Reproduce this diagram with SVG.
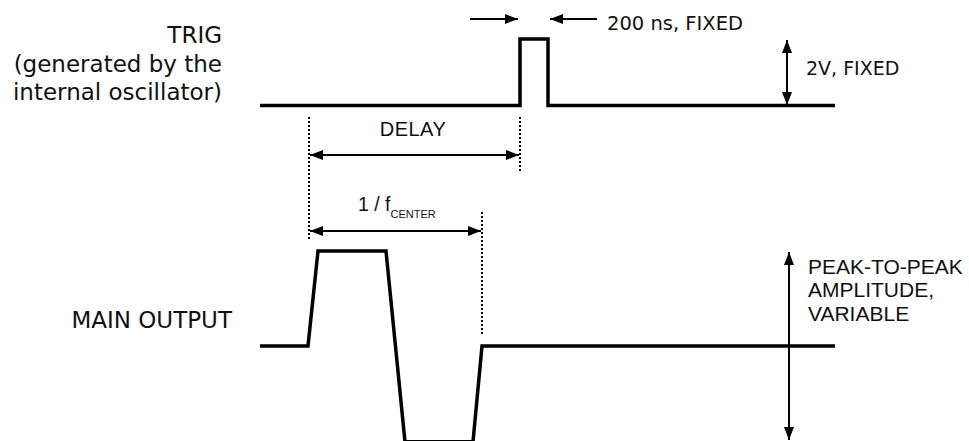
<svg xmlns="http://www.w3.org/2000/svg" width="969" height="441" viewBox="0 0 969 441">
<defs>
<style>
.wave{fill:none;stroke:#000;stroke-width:3.5;stroke-linejoin:miter}
.dim{fill:none;stroke:#000;stroke-width:2}
.dot{fill:none;stroke:#000;stroke-width:2;stroke-dasharray:2 2}
.lbl{font-family:"DejaVu Sans",Verdana,sans-serif;fill:#111}
.ar{font-family:"Liberation Sans",Arial,sans-serif;fill:#111}
</style>
<marker id="ah" viewBox="0 0 13 10" refX="13" refY="5" markerWidth="13" markerHeight="10" markerUnits="userSpaceOnUse" orient="auto-start-reverse">
<path d="M0,0 L13,5 L0,10 Z" fill="#000"/>
</marker>
</defs>
<g id="trig-label">
<text class="lbl" x="222" y="43" font-size="23" text-anchor="end">TRIG</text>
<text class="lbl" x="222" y="72" font-size="23" text-anchor="end">(generated by the</text>
<text class="lbl" x="222" y="100" font-size="23" text-anchor="end">internal oscillator)</text>
</g>
<g id="main-label">
<text class="lbl" x="232" y="328" font-size="23" text-anchor="end">MAIN OUTPUT</text>
</g>
<g id="trig-wave">
<path class="wave" d="M260,105.5 H520 V39 H548 V105.5 H835"/>
</g>
<g id="main-wave">
<path class="wave" d="M260,346 H308 L318,251 H386 L405,441.8 H473 L482,346 H835"/>
</g>
<g id="connectors">
<path class="dim" d="M470,19 H518" marker-end="url(#ah)"/>
<path class="dim" d="M550,19 H597" marker-start="url(#ah)"/>
<path class="dim" d="M787,40 V105" marker-start="url(#ah)" marker-end="url(#ah)"/>
<path class="dot" d="M309,117 V240"/>
<path class="dot" d="M520,117 V172"/>
<path class="dim" d="M310,155 H519" marker-start="url(#ah)" marker-end="url(#ah)"/>
<path class="dot" d="M482,212 V335"/>
<path class="dim" d="M310,231 H481" marker-start="url(#ah)" marker-end="url(#ah)"/>
<path class="dim" d="M789,252 V440" marker-start="url(#ah)" marker-end="url(#ah)"/>
</g>
<g id="texts">
<text class="lbl" x="607" y="30" font-size="19.5">200 ns, FIXED</text>
<text class="lbl" x="806" y="75" font-size="19">2V, FIXED</text>
<text class="ar" x="413" y="136" font-size="20" text-anchor="middle" letter-spacing="0.5">DELAY</text>
<text class="ar" x="358" y="211" font-size="19.5">1 / f<tspan font-size="11" dy="7">CENTER</tspan></text>
<text class="ar" x="808" y="274" font-size="21">PEAK-TO-PEAK</text>
<text class="ar" x="808" y="297" font-size="21">AMPLITUDE,</text>
<text class="ar" x="808" y="321" font-size="21">VARIABLE</text>
</g>
</svg>
